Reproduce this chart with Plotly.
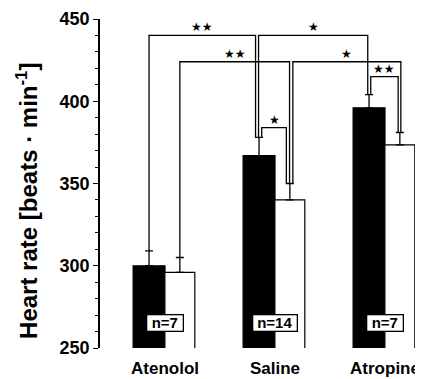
import plotly.graph_objects as go

categories = ["Atenolol", "Saline", "Atropine"]
black_mean = [300, 367, 396]
black_upper = [309, 378, 404]
white_mean = [296, 340, 373.5]
white_upper = [305, 350, 381]
n_labels = ["n=7", "n=14", "n=7"]
n_label_y = 265

# brackets: (group_a, series_a, group_b, series_b, level, label)
brackets = [
    (0, "b", 1, "b", 440, "★★"),
    (1, "b", 2, "b", 440, "★"),
    (0, "w", 1, "w", 424, "★★"),
    (1, "w", 2, "w", 424, "★"),
    (1, "b", 1, "w", 384, "★"),
    (2, "b", 2, "w", 415, "★★"),
]

PX = 1 / 110.0  # data units per pixel on x
B_OFF, B_W = -0.145, 0.29
W_OFF, W_W = 0.135, 0.272
# small horizontal offsets (px) of each bracket leg to avoid overlap
leg_off = [(0, -3.5), (-0.5, -1.3), (0, -0.3), (3, 1), (2.7, -3.5), (1.7, -1.7)]

FONT = "Liberation Sans, Arial, Helvetica, sans-serif"

# page body has an 8px default margin -> figure is 415x371 placed at (8, 8)
ML = 92

fig = go.Figure()
xs = list(range(len(categories)))
fig.add_trace(go.Bar(
    x=[i + B_OFF for i in xs], y=black_mean, width=B_W,
    marker=dict(color="black", line=dict(color="black", width=1.2)),
    error_y=dict(type="data", symmetric=False,
                 array=[u - m for u, m in zip(black_upper, black_mean)],
                 arrayminus=[0] * 3, color="black", thickness=1.3, width=4),
    showlegend=False, hoverinfo="skip"))
fig.add_trace(go.Bar(
    x=[i + W_OFF for i in xs], y=white_mean, width=W_W,
    marker=dict(color="white", line=dict(color="black", width=1.2)),
    error_y=dict(type="data", symmetric=False,
                 array=[u - m for u, m in zip(white_upper, white_mean)],
                 arrayminus=[0] * 3, color="black", thickness=1.3, width=4),
    showlegend=False, hoverinfo="skip"))

def pos(g, s):
    return g + (B_OFF if s == "b" else W_OFF)

def top(g, s):
    return black_upper[g] if s == "b" else white_upper[g]

annotations = []
for (ga, sa, gb, sb, lvl, lab), (oa, ob) in zip(brackets, leg_off):
    xa = pos(ga, sa) + oa * PX
    xb = pos(gb, sb) + ob * PX
    fig.add_trace(go.Scatter(
        x=[xa, xa, xb, xb], y=[top(ga, sa), lvl, lvl, top(gb, sb)],
        mode="lines", line=dict(color="black", width=1.3),
        showlegend=False, hoverinfo="skip", cliponaxis=False))
    annotations.append(dict(
        x=(xa + xb) / 2, y=lvl, xref="x", yref="y", text=lab,
        showarrow=False, xanchor="center", yanchor="bottom", yshift=-1,
        font=dict(family="DejaVu Sans", size=12, color="black")))

for i, t in enumerate(n_labels):
    annotations.append(dict(
        x=i, y=n_label_y, xref="x", yref="y", text=t, showarrow=False,
        xanchor="center", yanchor="middle",
        width=8 * len(t) + 11, height=15, align="center", valign="middle",
        bgcolor="white", bordercolor="black", borderwidth=1.3, borderpad=0,
        font=dict(family=FONT, size=15, color="black", weight="bold")))

annotations.append(dict(
    x=(19 - ML) / 320, y=0.447, xref="paper", yref="paper",
    xanchor="center", yanchor="middle",
    text="Heart rate [beats · min<sup>-1</sup>]", textangle=-90,
    showarrow=False, font=dict(family=FONT, size=24, color="black", weight="bold")))

fig.update_layout(
    width=415, height=371,
    margin=dict(l=ML, r=3, t=11, b=31, autoexpand=False),
    paper_bgcolor="white", plot_bgcolor="white",
    barmode="overlay",
    annotations=annotations,
    xaxis=dict(range=[-65 / 110, 255 / 110], tickvals=xs, ticktext=categories,
               automargin=False,
               showline=False, showgrid=False, zeroline=False, ticks="",
               ticklabelstandoff=8,
               tickfont=dict(family=FONT, size=17, color="black", weight="bold")),
    yaxis=dict(range=[250, 450], dtick=50, tick0=250, showline=True,
               automargin=False,
               linecolor="black", linewidth=1.5, ticks="outside", ticklen=5,
               tickwidth=1.3, tickcolor="black", showgrid=False, zeroline=False,
               minor=dict(dtick=10, ticks="outside", ticklen=3, tickcolor="black",
                          tickwidth=1.2, showgrid=False),
               tickfont=dict(family=FONT, size=18, color="black", weight="bold")),
)

fig.write_html("out.html")
